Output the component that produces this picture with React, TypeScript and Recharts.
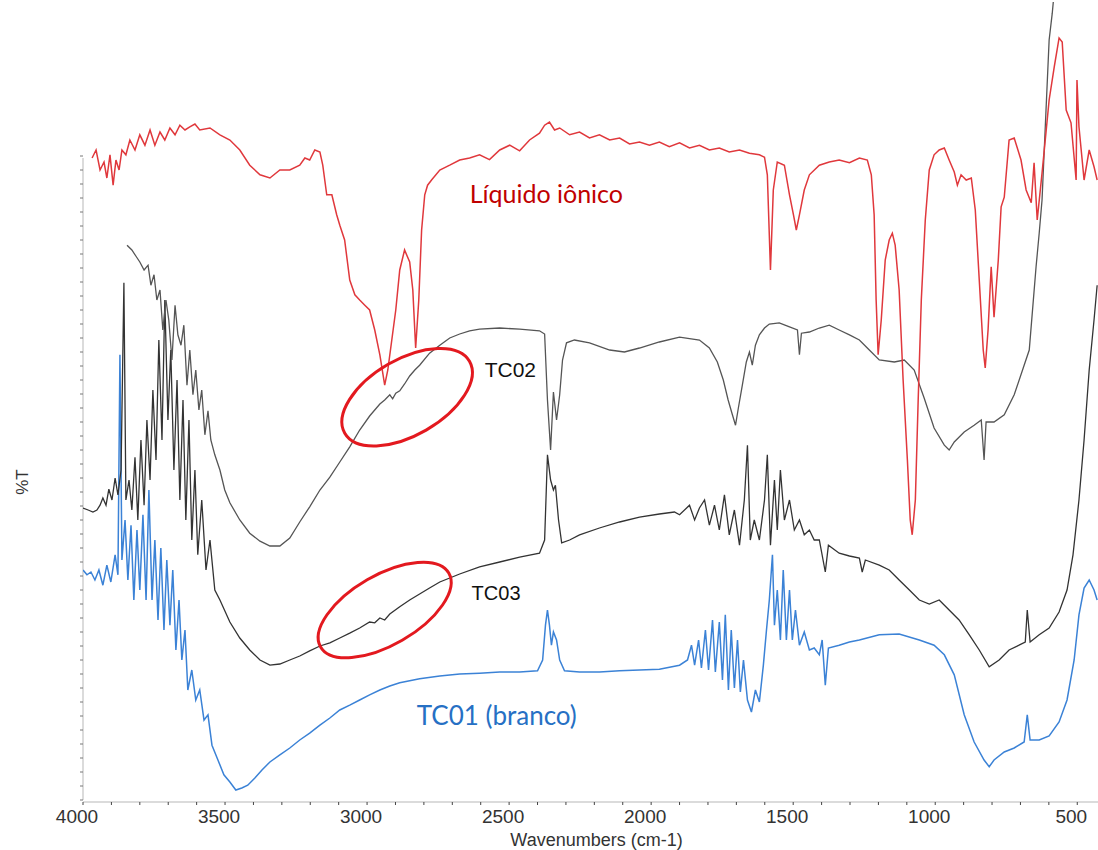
import { LineChart, Line, XAxis, YAxis, ReferenceLine, ReferenceDot } from "recharts";

// FTIR spectra: [wavenumber (cm-1), %T]
const liquidoIonico: [number, number][] = [
  [3968, 80.5], [3954, 81.5], [3940, 79], [3926, 80], [3916, 78], [3905, 80.9],
  [3894, 77.1], [3884, 80.25], [3873, 79], [3863, 81.5], [3849, 80.9], [3835, 82.75],
  [3817, 81.5], [3800, 83.4], [3782, 82.1], [3764, 84], [3747, 82.1], [3729, 83.75],
  [3712, 82.75], [3694, 84.25], [3676, 83.4], [3659, 84.6], [3641, 84], [3624, 84.4],
  [3606, 84.75], [3589, 84], [3553, 84.25], [3518, 83.4], [3483, 82.75], [3448, 81.5],
  [3413, 79.6], [3377, 78.4], [3342, 78], [3307, 79], [3272, 79], [3237, 79.6],
  [3219, 80.5], [3202, 80.25], [3184, 81.5], [3166, 81.25], [3156, 79.6], [3142, 75.9],
  [3124, 75.9], [3107, 73.4], [3096, 72.1], [3079, 70.25], [3061, 65.25], [3043, 63.4],
  [3026, 62.75], [3008, 62.1], [2991, 61.5], [2973, 59], [2955, 55.9], [2938, 52.1],
  [2927, 54], [2913, 57.75], [2899, 61.5], [2885, 66.5], [2868, 69], [2850, 67.5],
  [2839, 64], [2829, 56.75], [2818, 62.75], [2808, 71.5], [2797, 75.9], [2787, 77.1],
  [2773, 77.75], [2744, 79], [2709, 79.6], [2674, 80.25], [2639, 80.5], [2604, 80.9],
  [2569, 80.3], [2533, 81.5], [2498, 82.1], [2463, 81.4], [2428, 82.75], [2393, 83.6],
  [2375, 84.6], [2358, 85], [2340, 84], [2322, 84.25], [2287, 83.4], [2252, 83.75],
  [2217, 83], [2182, 83.4], [2146, 82.75], [2111, 83], [2076, 82.25], [2041, 82.5],
  [2006, 82.1], [1971, 82.5], [1936, 81.9], [1900, 82.4], [1865, 81.75], [1830, 82.1],
  [1795, 81.5], [1760, 81.75], [1725, 81.25], [1689, 81.5], [1654, 81.1], [1619, 80.9],
  [1601, 80.6], [1591, 78.4], [1580, 66.5], [1570, 76.5], [1556, 80], [1531, 79.6],
  [1513, 75.9], [1499, 73.4], [1489, 71.5], [1478, 73.4], [1461, 76.5], [1443, 78.4],
  [1408, 79.6], [1373, 80], [1338, 80.25], [1302, 79.9], [1267, 80.5], [1239, 80.25],
  [1225, 78.4], [1215, 73.4], [1208, 62.75], [1201, 55.9], [1190, 60.25], [1176, 67.75],
  [1162, 70.25], [1151, 71.1], [1141, 69.6], [1127, 64], [1113, 52.75], [1098, 42.75],
  [1088, 35.25], [1081, 33.4], [1070, 37.75], [1060, 50.25], [1049, 62.75], [1035, 72.75],
  [1021, 79], [1004, 80.9], [986, 81.5], [968, 81.75], [951, 80.25], [933, 78.75],
  [922, 77.1], [909, 78.4], [891, 77.75], [873, 78], [859, 74], [845, 65.25],
  [831, 56.5], [824, 54.25], [814, 59], [803, 66.9], [793, 60.6], [778, 67.75],
  [768, 74.4], [757, 75.6], [740, 82.75], [722, 83], [698, 80.25], [680, 76.5],
  [662, 74.9], [652, 79.9], [641, 72.75], [624, 78.6], [599, 87.75], [581, 91.9],
  [564, 95.5], [553, 95], [539, 86.5], [522, 84.9], [504, 77.75], [501, 90.25],
  [494, 84.4], [476, 77.75], [458, 81.5], [441, 79.4], [430, 77.75],
];

const tc02: [number, number][] = [
  [3845, 69.6], [3828, 69], [3814, 68.25], [3800, 67.5], [3785, 66.5], [3771, 67.1],
  [3761, 64.6], [3750, 65.9], [3740, 62.75], [3729, 64], [3719, 59], [3708, 62.75],
  [3698, 60.25], [3687, 55.25], [3676, 62.1], [3666, 58.4], [3655, 57.1], [3645, 59.6],
  [3634, 52.1], [3624, 56.5], [3613, 50.9], [3603, 54], [3592, 49], [3582, 51.5],
  [3571, 45.9], [3560, 48.9], [3550, 45.25], [3536, 43.4], [3518, 41.5], [3501, 39],
  [3483, 37.4], [3448, 35.25], [3413, 33.6], [3377, 32.6], [3342, 32], [3307, 32],
  [3272, 33], [3237, 35], [3202, 36.9], [3166, 39], [3131, 40.6], [3096, 42.5],
  [3061, 44.4], [3026, 46.5], [2991, 48.25], [2955, 49.75], [2938, 50.25], [2920, 50.9],
  [2910, 50.4], [2899, 51.1], [2885, 51.4], [2868, 52.25], [2850, 53.25], [2832, 54],
  [2815, 54.6], [2780, 56.1], [2744, 57.1], [2709, 58], [2674, 58.5], [2639, 58.9],
  [2604, 59.1], [2533, 59.25], [2463, 59.1], [2393, 58.9], [2375, 58.5], [2365, 50.25],
  [2354, 44], [2344, 51.25], [2333, 47.75], [2322, 50.9], [2312, 55.25], [2298, 57.4],
  [2270, 57.75], [2217, 57.4], [2146, 56.5], [2094, 56.25], [2041, 56.75], [1971, 57.5],
  [1900, 58.1], [1830, 57.75], [1795, 56.75], [1767, 55], [1746, 52.75], [1729, 50.25],
  [1714, 48.4], [1703, 47.1], [1693, 49.25], [1679, 52.1], [1665, 55], [1654, 56.25],
  [1644, 54.6], [1633, 57.1], [1619, 58.4], [1601, 59.25], [1584, 59.75], [1549, 59.9],
  [1513, 59.4], [1485, 59], [1478, 55.9], [1471, 58.6], [1443, 58.75], [1408, 59.25],
  [1373, 59.6], [1338, 59], [1302, 58.4], [1267, 57.75], [1232, 56.5], [1197, 55.25],
  [1144, 55], [1109, 55.25], [1074, 54], [1039, 50.5], [1004, 46.75], [968, 44.6],
  [951, 44], [933, 45], [898, 46.25], [863, 47.1], [838, 47.75], [828, 42.75],
  [821, 47.5], [793, 47.5], [757, 48.4], [722, 50.9], [687, 54.6], [669, 56.5],
  [645, 66.9], [634, 71.1], [624, 75.25], [610, 86.5], [599, 95.25], [588, 98.6],
  [574, 104], [557, 110],
];

const tc03: [number, number][] = [
  [4000, 36.75], [3982, 36.5], [3965, 36.25], [3951, 36.5], [3940, 37.1], [3930, 38],
  [3919, 37.1], [3909, 39.1], [3898, 37.75], [3887, 40.5], [3877, 38.4], [3866, 41.5],
  [3856, 64.9], [3849, 37.75], [3838, 40.25], [3828, 36.5], [3817, 43.1], [3807, 35.25],
  [3796, 45.25], [3785, 37.1], [3775, 47.75], [3764, 40.25], [3754, 51.5], [3743, 42.75],
  [3733, 57.75], [3722, 45.25], [3712, 62.75], [3701, 47.75], [3691, 56.5], [3680, 41.5],
  [3669, 52.75], [3659, 37.75], [3648, 50.25], [3638, 35.25], [3627, 47.75], [3617, 32.75],
  [3606, 41.5], [3596, 30.9], [3582, 37.75], [3567, 29], [3553, 32.75], [3536, 26.5],
  [3518, 25.25], [3483, 22.5], [3448, 20.5], [3413, 19], [3377, 17.75], [3342, 17.1],
  [3307, 17.25], [3272, 17.75], [3237, 18.25], [3202, 18.9], [3166, 19.5], [3131, 19.9],
  [3096, 20.5], [3061, 21.1], [3026, 21.75], [2991, 22.5], [2973, 22.4], [2955, 23],
  [2938, 22.75], [2920, 23.5], [2885, 24.4], [2850, 25.25], [2815, 26], [2780, 26.75],
  [2744, 27.5], [2674, 28.5], [2604, 29.4], [2533, 30], [2463, 30.6], [2393, 31.1],
  [2375, 32.75], [2365, 43.4], [2354, 40.25], [2344, 39], [2337, 39.6], [2326, 35.25],
  [2315, 32.4], [2287, 32.75], [2252, 33.4], [2182, 34.25], [2111, 35], [2041, 35.6],
  [1971, 36], [1918, 36.25], [1900, 35.9], [1865, 37.1], [1847, 35.25], [1830, 36.75],
  [1812, 37.75], [1795, 34.6], [1777, 37.1], [1760, 34], [1742, 38.4], [1725, 33.4],
  [1707, 36.5], [1689, 32.1], [1672, 37.75], [1661, 44.6], [1651, 32.75], [1637, 35.25],
  [1619, 32.75], [1601, 37.75], [1591, 43.4], [1580, 32.1], [1566, 40.25], [1556, 34],
  [1545, 41.5], [1531, 35.25], [1513, 37.75], [1496, 34], [1478, 35.25], [1461, 33.4],
  [1443, 34], [1426, 32.75], [1408, 32.75], [1387, 28.75], [1376, 32.1], [1338, 31.1],
  [1302, 30.75], [1267, 30.5], [1257, 28.75], [1246, 30.25], [1197, 29.6], [1162, 29],
  [1127, 27.75], [1091, 26.5], [1056, 25.25], [1021, 24.75], [986, 25.25], [951, 24],
  [916, 22.75], [880, 20.9], [845, 19], [810, 16.9], [775, 17.75], [740, 19],
  [705, 19.6], [683, 20], [676, 24], [666, 20], [634, 20.9], [599, 21.75],
  [564, 23.75], [536, 26.5], [515, 30.9], [494, 37.75], [476, 45.25], [458, 54],
  [441, 60.25], [430, 64.6],
];

const tc01: [number, number][] = [
  [4000, 29], [3986, 28.4], [3972, 28.75], [3958, 27.75], [3944, 29], [3930, 27.1],
  [3916, 29.6], [3902, 27.5], [3887, 30.9], [3877, 28.4], [3870, 55.9], [3863, 30.25],
  [3852, 35.25], [3842, 27.75], [3831, 34.6], [3821, 25.25], [3810, 34], [3800, 26.5],
  [3789, 35.9], [3778, 25.25], [3768, 39], [3757, 25.25], [3747, 32.75], [3736, 22.75],
  [3726, 31.75], [3715, 21.5], [3705, 30.25], [3694, 22.1], [3684, 29], [3673, 19],
  [3662, 25.25], [3652, 17.75], [3641, 21.5], [3631, 14], [3617, 16.5], [3603, 12.75],
  [3589, 14], [3574, 10.25], [3560, 10.9], [3546, 7.1], [3525, 5.25], [3504, 3.4],
  [3483, 2.5], [3462, 1.5], [3441, 1.75], [3420, 2.1], [3395, 3], [3370, 4],
  [3342, 5], [3307, 5.9], [3272, 6.75], [3237, 7.75], [3202, 8.6], [3166, 9.6],
  [3131, 10.5], [3096, 11.5], [3061, 12.1], [3026, 12.75], [2991, 13.4], [2955, 14],
  [2920, 14.5], [2885, 14.9], [2815, 15.4], [2744, 15.75], [2674, 16], [2604, 16.1],
  [2533, 16.25], [2463, 16.25], [2400, 16.4], [2382, 17.75], [2372, 22.1], [2365, 24],
  [2358, 22.1], [2351, 19.6], [2344, 21.25], [2333, 20.25], [2322, 17.75], [2305, 16.4],
  [2252, 16.25], [2182, 16.25], [2111, 16.4], [2041, 16.5], [1971, 16.6], [1900, 17.1],
  [1872, 17.75], [1858, 19.6], [1847, 17.1], [1833, 20.25], [1823, 16.75], [1809, 21.5],
  [1798, 16.5], [1784, 22.75], [1774, 16.25], [1760, 22.5], [1749, 15.25], [1739, 23.4],
  [1728, 14], [1718, 21.5], [1707, 14.25], [1696, 20.25], [1686, 13.75], [1675, 17.75],
  [1661, 12.75], [1647, 11.25], [1633, 14], [1619, 12.5], [1605, 17.1], [1594, 21.5],
  [1584, 25.25], [1573, 30.9], [1566, 22.1], [1556, 26.5], [1545, 20.25], [1535, 29],
  [1524, 20.25], [1513, 26.5], [1503, 20.25], [1492, 24], [1478, 19.6], [1461, 21.25],
  [1443, 19], [1426, 19.25], [1408, 18.4], [1398, 20.25], [1387, 14.6], [1376, 19.25],
  [1338, 19.6], [1302, 20], [1267, 20.25], [1197, 20.9], [1127, 21], [1056, 20.25],
  [1004, 19.6], [968, 18.4], [933, 15.9], [898, 10.9], [863, 7.5], [828, 5.25],
  [810, 4.4], [793, 5.25], [757, 6.25], [722, 6.75], [687, 7.5], [676, 10.9],
  [666, 7.75], [634, 7.75], [599, 8.25], [564, 10], [536, 12.75], [511, 17.75],
  [494, 23.4], [476, 26.75], [458, 27.75], [441, 26.5], [430, 25.25],
];

const xTicks = [
  4000, 3900, 3800, 3700, 3600, 3500, 3400, 3300, 3200, 3100, 3000, 2900, 2800,
  2700, 2600, 2500, 2400, 2300, 2200, 2100, 2000, 1900, 1800, 1700, 1600, 1500,
  1400, 1300, 1200, 1100, 1000, 900, 800, 700, 600, 500,
];
const yTicks = Array.from({ length: 47 }, (_, k) => 0.25 + k * 1.75);

// highlighted C-H regions (centre in data units)
const circles = [
  { w: 2859, t: 50.6 },
  { w: 2938, t: 24 },
];

const toPoints = (rows: [number, number][]) => rows.map(([w, t]) => ({ w, t }));

const ellipseShape = (rx: number, ry: number) => (p: any) => (
  <ellipse
    cx={p.cx}
    cy={p.cy}
    rx={rx}
    ry={ry}
    transform={`rotate(-30 ${p.cx} ${p.cy})`}
    fill="none"
    stroke="#E3191F"
    strokeWidth={3}
  />
);

const tagShape = (text: string, color: string, font: string, size: number) => (p: any) => (
  <text x={p.cx} y={p.cy} fill={color} fontFamily={font} fontSize={size}>
    {text}
  </text>
);

const XTick = (props: any) => {
  const { x, y, payload } = props;
  if (payload.value % 500 !== 0) return <g />;
  return (
    <text
      x={x - 6}
      y={y + 14}
      textAnchor="middle"
      fontFamily="Liberation Sans, Arial"
      fontSize={19}
      fill="#333"
    >
      {payload.value}
    </text>
  );
};

const YTitle = (props: any) => {
  const { x, y, height } = props.viewBox;
  const cx = x + 22;
  const cy = y + height * 0.6;
  return (
    <text
      x={cx}
      y={cy}
      transform={`rotate(-90 ${cx} ${cy})`}
      textAnchor="middle"
      dominantBaseline="central"
      fontFamily="Liberation Sans, Arial"
      fontSize={17}
      fill="#333"
    >
      %T
    </text>
  );
};

export default function App() {
  return (
    <div style={{ position: "absolute", left: 0, top: 0, background: "#fff" }}>
      <LineChart width={1098} height={850} margin={{ top: 2, right: 0, bottom: 0, left: 0 }}>
        <XAxis
          type="number"
          dataKey="w"
          domain={[427, 4000]}
          reversed
          allowDataOverflow
          ticks={xTicks}
          interval={0}
          height={48}
          axisLine={{ stroke: "#cfcfcf", strokeWidth: 1.5 }}
          tickLine={{ stroke: "#444" }}
          tickSize={3}
          tickMargin={4}
          tick={<XTick />}
          label={{
            value: "Wavenumbers (cm-1)",
            position: "insideBottom",
            offset: 4,
            dx: 6,
            style: { fontSize: 18, fill: "#333", fontFamily: "Liberation Sans, Arial" },
          }}
        />
        <YAxis
          type="number"
          domain={[0, 100]}
          allowDataOverflow
          width={83}
          ticks={yTicks}
          interval={0}
          tick={() => <g />}
          axisLine={false}
          tickLine={{ stroke: "#777" }}
          tickSize={3}
          label={<YTitle />}
        />
        <ReferenceLine
          segment={[
            { x: 4000, y: 0.25 },
            { x: 4000, y: 80.5 },
          ]}
          stroke="#cfcfcf"
          strokeWidth={1.5}
        />
        <Line
          data={toPoints(tc01)}
          dataKey="t"
          type="linear"
          dot={false}
          stroke="#3B82D6"
          strokeWidth={1.5}
          isAnimationActive={false}
        />
        <Line
          data={toPoints(tc03)}
          dataKey="t"
          type="linear"
          dot={false}
          stroke="#333"
          strokeWidth={1.3}
          isAnimationActive={false}
        />
        <Line
          data={toPoints(tc02)}
          dataKey="t"
          type="linear"
          dot={false}
          stroke="#555"
          strokeWidth={1.3}
          isAnimationActive={false}
        />
        <Line
          data={toPoints(liquidoIonico)}
          dataKey="t"
          type="linear"
          dot={false}
          stroke="#E0383C"
          strokeWidth={1.5}
          isAnimationActive={false}
        />
        <ReferenceDot x={circles[0].w} y={circles[0].t} shape={ellipseShape(72, 38)} />
        <ReferenceDot x={circles[1].w} y={circles[1].t} shape={ellipseShape(74, 35)} />
        <ReferenceDot x={2639} y={74.9} shape={tagShape("Líquido iônico", "#C00000", "Lato", 25)} />
        <ReferenceDot x={2586} y={53.1} shape={tagShape("TC02", "#111", "Liberation Sans, Arial", 21)} />
        <ReferenceDot x={2632} y={25.25} shape={tagShape("TC03", "#111", "Liberation Sans, Arial", 20)} />
        <ReferenceDot x={2825} y={9.6} shape={tagShape("TC01 (branco)", "#2670C4", "Lato", 26)} />
      </LineChart>
    </div>
  );
}
